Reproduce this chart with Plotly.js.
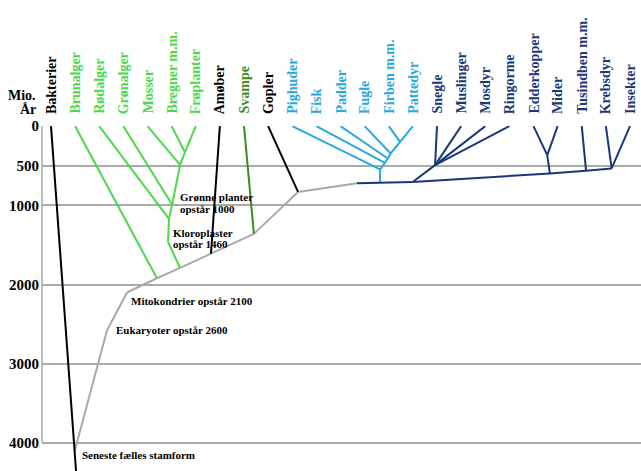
<!DOCTYPE html>
<html><head><meta charset="utf-8">
<script src="https://cdn.plot.ly/plotly-3.0.1.min.js"></script>
<style>html,body{margin:0;padding:0;background:#fff}#chart{width:641px;height:471px}</style>
</head><body><div id="chart"></div>
<script>
// Leaves (column index = position in this list)
const leafNames = ["Bakterier","Brunalger","Rødalger","Grønalger","Mosser","Bregner m.m.","Frøplanter","Amøber","Svampe","Gopler","Pighuder","Fisk","Padder","Fugle","Firben m.m.","Pattedyr","Snegle","Muslinger","Mosdyr","Ringorme","Edderkopper","Mider","Tusindben m.m.","Krebsdyr","Insekter"];
const leafGroups = ["black","green","green","green","green","green","green","black","darkgreen","black","lightblue","lightblue","lightblue","lightblue","lightblue","lightblue","navy","navy","navy","navy","navy","navy","navy","navy","navy"];

// Internal nodes: column position and age (mio. år)
const nodeKeys = ["bakterieEnd","root","euk","mito","brunJ","plantJ","kloro","rodN","gronN","landN","fropN","amoebeJ","svampeN","goplerN","bilat","vertBase","protoN","vert1","vert2","vert3","vert4","vert5","snegleN","arthM","emN","arthT","arthK"];
const nodeCols = [1.04,0.99,2.32,3.15,4.39,5.35,4.85,4.89,5.02,5.35,5.55,6.63,8.41,10.24,12.68,13.64,14.99,13.64,13.84,13.96,14.08,14.47,15.92,20.68,20.57,22.18,23.24];
const nodeAges = [4360,4090,2580,2100,1920,1790,1460,1170,990,490,330,1610,1360,830,720,713,705,546,463,408,345,198,492,597,366,564,534];

// Branches
const edgeFrom = ["Bakterier","Amøber","Gopler",
  "root","euk","mito","brunJ","plantJ","amoebeJ","svampeN","goplerN",
  "Brunalger","plantJ","kloro","rodN","gronN","landN","Rødalger","Grønalger","Mosser","Bregner m.m.","Frøplanter",
  "Svampe",
  "vertBase","vert1","vert2","vert3","vert4","Pighuder","Fisk","Padder","Fugle","Firben m.m.","Pattedyr",
  "bilat","protoN","Snegle","Muslinger","Mosdyr","Ringorme","protoN","arthM","arthT","arthM","Edderkopper","Mider","Tusindben m.m.","Krebsdyr","Insekter"];
const edgeTo = ["bakterieEnd","amoebeJ","goplerN",
  "euk","mito","brunJ","plantJ","amoebeJ","svampeN","goplerN","bilat",
  "brunJ","kloro","rodN","gronN","landN","fropN","rodN","gronN","landN","fropN","fropN",
  "svampeN",
  "vert1","vert2","vert3","vert4","vert5","vert1","vert2","vert3","vert4","vert5","vert5",
  "protoN","snegleN","snegleN","snegleN","snegleN","snegleN","arthM","arthT","arthK","emN","emN","emN","arthT","arthK","arthK"];
const edgeGroups = ["black","black","black",
  "gray","gray","gray","gray","gray","gray","gray","gray",
  "green","green","green","green","green","green","green","green","green","green","green",
  "darkgreen",
  "lightblue","lightblue","lightblue","lightblue","lightblue","lightblue","lightblue","lightblue","lightblue","lightblue","lightblue",
  "navy","navy","navy","navy","navy","navy","navy","navy","navy","navy","navy","navy","navy","navy","navy"];

// Notes
const noteTexts = ["Grønne planter","opstår 1000","Kloroplaster","opstår 1460","Mitokondrier opstår 2100","Eukaryoter opstår 2600","Seneste fælles stamform"];
const noteCols = [5.26,5.26,4.97,4.97,3.23,2.61,1.20];
const noteAges = [896,1047,1346,1489,2204,2574,4151];

// Axis
const tickVals = [0,500,1000,2000,3000,4000];
const tickLabels = ["0","500","1000","2000","3000","4000"];
const axisTitleLines = ["Mio.","År"];

const colors = {black:"#000000", gray:"#a9a9a9", green:"#4cd94c", darkgreen:"#3e8c1e", lightblue:"#27a8df", navy:"#1a3878"};
const serif = "'Liberation Serif', 'Times New Roman', serif";

function pos(key){
  const li = leafNames.indexOf(key);
  if (li >= 0) return [li, 0];
  const ni = nodeKeys.indexOf(key);
  return [nodeCols[ni], nodeAges[ni]];
}

const order = ["gray","black","green","darkgreen","lightblue","navy"];
const traces = order.map(g => {
  const xs = [], ys = [];
  edgeFrom.forEach((f, i) => {
    if (edgeGroups[i] !== g) return;
    const a = pos(f), b = pos(edgeTo[i]);
    xs.push(a[0], b[0], null); ys.push(a[1], b[1], null);
  });
  return {type:"scatter", mode:"lines", x:xs, y:ys, line:{color:colors[g], width:2}, hoverinfo:"skip", showlegend:false, connectgaps:false};
});

const annotations = [];
leafNames.forEach((n, i) => {
  annotations.push({xref:"x", x:i, yref:"paper", y:1, yshift:10, text:n, textangle:-90, showarrow:false,
    xanchor:"center", yanchor:"bottom", font:{family:serif, size:14, weight:"bold", color:colors[leafGroups[i]]}});
});
noteTexts.forEach((t, i) => {
  annotations.push({xref:"x", x:noteCols[i], yref:"y", y:noteAges[i], text:t, showarrow:false, xanchor:"left", yanchor:"middle",
    font:{family:serif, size:11, weight:"bold", color:"#000"}});
});
annotations.push({xref:"paper", x:0, xshift:-4, yref:"paper", y:1, yshift:31, text:axisTitleLines[0], showarrow:false, xanchor:"right", yanchor:"middle", font:{family:serif, size:14, weight:"bold", color:"#000"}});
annotations.push({xref:"paper", x:0, xshift:-4, yref:"paper", y:1, yshift:17, text:axisTitleLines[1], showarrow:false, xanchor:"right", yanchor:"middle", font:{family:serif, size:14, weight:"bold", color:"#000"}});

const layout = {
  width:641, height:471,
  margin:{l:42, r:0, t:126, b:0, pad:0},
  paper_bgcolor:"#fff", plot_bgcolor:"#fff",
  xaxis:{range:[-0.373, 24.456], showgrid:false, zeroline:false, showticklabels:false, showline:false, fixedrange:true},
  yaxis:{range:[4353, -2], tickmode:"array", tickvals:tickVals, ticktext:tickLabels, showgrid:true, gridcolor:"#aaaaaa", gridwidth:2,
    zeroline:false, showline:false, ticks:"", ticklabelstandoff:2, tickfont:{family:serif, size:15, weight:"bold", color:"#000"}, fixedrange:true},
  shapes:[{type:"line", xref:"paper", x0:0, x1:0, yref:"y", y0:0, y1:4000, line:{color:"#bdbdbd", width:2}, layer:"below"}],
  annotations:annotations
};

Plotly.newPlot("chart", traces, layout, {staticPlot:true, displayModeBar:false});
</script>
</body></html>
